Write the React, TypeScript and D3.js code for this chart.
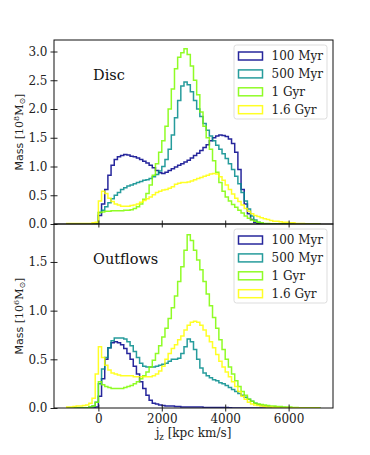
import React, {useEffect, useRef} from 'react';
import * as d3 from 'd3';

// histogram bin edges in jz [kpc km/s]
const binEdges = d3.range(-1000, 7001, 100);
const seriesNames = ['100 Myr', '500 Myr', '1 Gyr', '1.6 Gyr'];
const seriesColors = ['#00008b', '#008b8b', '#7cfc00', '#ffff00'];
const xTicks = [0, 2000, 4000, 6000];
const discTicks = [0, 0.5, 1, 1.5, 2, 2.5, 3];
const outflowTicks = [0, 0.5, 1, 1.5];

// Disc, mass [1e8 Msun]
const disc100 = [
    0, 0, 0, 0, 0, 0, 0, 0, 0, 0,
    0.15, 0.35, 0.6, 0.85, 1.02, 1.12, 1.17, 1.19, 1.21, 1.2,
    1.18, 1.17, 1.15, 1.12, 1.09, 1.06, 1.02, 0.98, 0.93, 0.89,
    0.88, 0.9, 0.93, 0.96, 0.99, 1.02, 1.05, 1.08, 1.11, 1.15,
    1.19, 1.23, 1.28, 1.33, 1.38, 1.45, 1.5, 1.53, 1.55, 1.54,
    1.52, 1.48, 1.4, 1.25, 0.95, 0.6, 0.35, 0.18, 0.08, 0.03,
    0.01, 0, 0, 0, 0, 0, 0, 0, 0, 0,
    0, 0, 0, 0, 0, 0, 0, 0, 0, 0,
];
const disc500 = [
    0, 0, 0, 0, 0, 0, 0, 0, 0, 0,
    0.2, 0.24, 0.3, 0.37, 0.44, 0.5, 0.55, 0.6, 0.63, 0.66,
    0.68, 0.7, 0.72, 0.74, 0.76, 0.77, 0.79, 0.82, 0.86, 0.92,
    1.0, 1.12, 1.3, 1.55, 1.85, 2.15, 2.4, 2.47, 2.42, 2.3,
    2.15, 2.0, 1.87, 1.75, 1.63, 1.53, 1.45, 1.37, 1.3, 1.22,
    1.14, 1.05, 0.95, 0.83, 0.7, 0.55, 0.4, 0.26, 0.14, 0.07,
    0.03, 0.01, 0, 0, 0, 0, 0, 0, 0, 0,
    0, 0, 0, 0, 0, 0, 0, 0, 0, 0,
];
const disc1000 = [
    0, 0, 0, 0, 0, 0, 0, 0, 0, 0,
    0.2, 0.21, 0.22, 0.22, 0.23, 0.23, 0.23, 0.23, 0.24, 0.24,
    0.25, 0.27, 0.3, 0.35, 0.43, 0.53, 0.68, 0.85, 1.05, 1.25,
    1.45, 1.7, 2.0, 2.35, 2.7, 2.9, 2.98, 3.05, 2.95, 2.75,
    2.5, 2.25, 1.95, 1.7, 1.5, 1.3, 1.1, 0.9, 0.72, 0.57,
    0.47, 0.4, 0.34, 0.29, 0.24, 0.19, 0.14, 0.1, 0.07, 0.05,
    0.03, 0.02, 0.01, 0.01, 0, 0, 0, 0, 0, 0,
    0, 0, 0, 0, 0, 0, 0, 0, 0, 0,
];
const disc1600 = [
    0.01, 0.01, 0.01, 0.01, 0.01, 0.01, 0.01, 0.01, 0.02, 0.03,
    0.4, 0.57, 0.53, 0.45, 0.39, 0.35, 0.33, 0.31, 0.31, 0.31,
    0.32, 0.33, 0.35, 0.38, 0.41, 0.44, 0.47, 0.51, 0.55, 0.57,
    0.59, 0.6, 0.62, 0.65, 0.69, 0.71, 0.72, 0.72, 0.73, 0.75,
    0.77, 0.79, 0.81, 0.83, 0.85, 0.87, 0.88, 0.87, 0.82, 0.76,
    0.68, 0.6, 0.52, 0.45, 0.39, 0.33, 0.27, 0.22, 0.18, 0.15,
    0.13, 0.11, 0.09, 0.08, 0.06, 0.05, 0.05, 0.04, 0.03, 0.03,
    0.02, 0.02, 0.01, 0.01, 0.01, 0, 0, 0, 0, 0,
];

// Outflows, mass [1e6 Msun]
const out100 = [
    0, 0, 0, 0, 0, 0, 0, 0, 0, 0.01,
    0.12, 0.3, 0.5, 0.62, 0.67, 0.68, 0.67, 0.65, 0.61, 0.56,
    0.5, 0.43, 0.35, 0.27, 0.2, 0.13, 0.08, 0.05, 0.04, 0.03,
    0.025, 0.02, 0.02, 0.02, 0.015, 0.015, 0.01, 0.01, 0.01, 0.01,
    0.01, 0.01, 0.01, 0.005, 0.005, 0.005, 0.005, 0.005, 0.005, 0.005,
    0.005, 0.003, 0, 0, 0, 0, 0, 0, 0, 0,
    0, 0, 0, 0, 0, 0, 0, 0, 0, 0,
    0, 0, 0, 0, 0, 0, 0, 0, 0, 0,
];
const out500 = [
    0, 0, 0, 0, 0, 0, 0, 0.01, 0.02, 0.06,
    0.25, 0.4, 0.52, 0.62, 0.69, 0.72, 0.72, 0.72, 0.71, 0.68,
    0.64, 0.58, 0.52, 0.46, 0.43, 0.42, 0.42, 0.42, 0.43, 0.44,
    0.45, 0.46, 0.48, 0.5, 0.5, 0.51, 0.56, 0.63, 0.71, 0.68,
    0.6, 0.5, 0.41, 0.36, 0.33, 0.31, 0.29, 0.28, 0.26, 0.25,
    0.23, 0.21, 0.19, 0.17, 0.15, 0.13, 0.11, 0.09, 0.07, 0.05,
    0.035, 0.025, 0.02, 0.015, 0.01, 0.01, 0.008, 0.005, 0.005, 0.003,
    0, 0, 0, 0, 0, 0, 0, 0, 0, 0,
];
const out1000 = [
    0, 0, 0, 0, 0, 0, 0, 0.01, 0.02, 0.06,
    0.27, 0.24, 0.22, 0.21, 0.2, 0.2, 0.2, 0.2, 0.21, 0.22,
    0.23, 0.25, 0.27, 0.3, 0.33, 0.37, 0.42, 0.49, 0.56, 0.64,
    0.73, 0.82, 0.92, 1.03, 1.15, 1.3, 1.45, 1.62, 1.78, 1.72,
    1.62, 1.52, 1.42, 1.3, 1.17, 1.05, 0.93, 0.82, 0.7, 0.6,
    0.5, 0.42, 0.35, 0.28, 0.22, 0.17, 0.13, 0.09, 0.07, 0.05,
    0.04, 0.035, 0.03, 0.025, 0.02, 0.02, 0.015, 0.015, 0.01, 0.01,
    0.01, 0.005, 0.005, 0, 0, 0, 0, 0, 0, 0,
];
const out1600 = [
    0.01, 0.01, 0.015, 0.02, 0.02, 0.025, 0.03, 0.05, 0.1, 0.35,
    0.63, 0.52, 0.44, 0.39, 0.36, 0.35, 0.34, 0.33, 0.33, 0.33,
    0.33, 0.32, 0.32, 0.32, 0.32, 0.32, 0.32, 0.33, 0.35, 0.38,
    0.43, 0.5, 0.56, 0.61, 0.65, 0.7, 0.74, 0.8, 0.85, 0.88,
    0.89, 0.88, 0.85, 0.8, 0.74, 0.68, 0.62, 0.55, 0.48, 0.42,
    0.37, 0.32, 0.27, 0.22, 0.17, 0.12, 0.09, 0.06, 0.04, 0.03,
    0.025, 0.02, 0.015, 0.01, 0.01, 0.005, 0.005, 0, 0, 0,
    0, 0, 0, 0, 0, 0, 0, 0, 0, 0,
];

const serif = 'DejaVu Serif';
const sans = 'DejaVu Sans';

const App = () => {
    const svgRef = useRef(null);

    useEffect(() => {
        const svg = d3.select(svgRef.current);
        svg.selectAll('*').remove();

        const left = 54, right = 333;
        const x = d3.scaleLinear().domain([-1400, 7400]).range([left, right]);

        const drawPanel = (top, bottom, yMax, ticks, series, title, exponent, showXLabels) => {
            const y = d3.scaleLinear().domain([0, yMax]).range([bottom, top]);
            const g = svg.append('g');

            // clip to axes
            const clipId = `clip-${title}`;
            g.append('clipPath').attr('id', clipId)
                .append('rect')
                .attr('x', left).attr('y', top)
                .attr('width', right - left).attr('height', bottom - top);

            // step outlines
            const line = d3.line().x(d => x(d[0])).y(d => y(d[1]));
            series.forEach((vals, k) => {
                const pts = [[binEdges[0], 0]];
                vals.forEach((v, i) => {
                    pts.push([binEdges[i], v]);
                    pts.push([binEdges[i + 1], v]);
                });
                pts.push([binEdges[binEdges.length - 1], 0]);
                g.append('path')
                    .attr('clip-path', `url(#${clipId})`)
                    .attr('d', line(pts))
                    .attr('fill', 'none')
                    .attr('stroke', seriesColors[k])
                    .attr('stroke-opacity', 0.85)
                    .attr('stroke-width', 1.5);
            });

            // y axis (ticks in and out)
            const yAxis = d3.axisLeft(y).tickValues(ticks).tickFormat(d3.format('.1f'))
                .tickSize(7).tickPadding(3);
            const ya = g.append('g').attr('transform', `translate(${left + 3.5},0)`).call(yAxis);
            ya.select('.domain').remove();
            ya.selectAll('text').attr('font-family', serif).attr('font-size', 12).attr('fill', '#222');
            ya.selectAll('line').attr('stroke', '#222');

            // x axis
            const xAxis = d3.axisBottom(x).tickValues(xTicks).tickSize(7).tickPadding(2.5)
                .tickFormat(showXLabels ? d3.format('d') : () => '');
            const xa = g.append('g').attr('transform', `translate(0,${bottom - 3.5})`).call(xAxis);
            xa.select('.domain').remove();
            xa.selectAll('text').attr('font-family', serif).attr('font-size', 12).attr('fill', '#222');
            xa.selectAll('line').attr('stroke', '#222');

            // frame
            g.append('rect')
                .attr('x', left).attr('y', top)
                .attr('width', right - left).attr('height', bottom - top)
                .attr('fill', 'none').attr('stroke', '#111').attr('stroke-width', 1);

            // panel title
            g.append('text')
                .attr('x', 93).attr('y', top + 40)
                .attr('font-family', serif).attr('font-size', 14.5).attr('fill', '#111')
                .text(title);

            // y label
            const yl = g.append('text')
                .attr('transform', `translate(23,${(top + bottom) / 2}) rotate(-90)`)
                .attr('text-anchor', 'middle')
                .attr('font-size', 11).attr('fill', '#222');
            yl.append('tspan').attr('font-family', sans).text('Mass ');
            yl.append('tspan').attr('font-family', serif).text('[10');
            yl.append('tspan').attr('font-family', serif).attr('font-size', 8).attr('dy', -4).text(exponent);
            yl.append('tspan').attr('font-family', serif).attr('dy', 4).text('M');
            yl.append('tspan').attr('font-family', sans).attr('font-size', 8).attr('dy', 2).text('\u2299');
            yl.append('tspan').attr('font-family', serif).attr('dy', -2).text(']');

            // legend
            const lg = g.append('g').attr('transform', `translate(234,${top + 5})`);
            lg.append('rect')
                .attr('width', 93).attr('height', 74).attr('rx', 2.5)
                .attr('fill', '#fff').attr('fill-opacity', 0.8)
                .attr('stroke', '#d4d4d4').attr('stroke-width', 0.8);
            seriesNames.forEach((name, k) => {
                const cy = 11 + k * 17.9;
                lg.append('rect')
                    .attr('x', 4.5).attr('y', cy - 4)
                    .attr('width', 24).attr('height', 8)
                    .attr('fill', 'none')
                    .attr('stroke', seriesColors[k]).attr('stroke-opacity', 0.85)
                    .attr('stroke-width', 1.5);
                lg.append('text')
                    .attr('x', 37.5).attr('y', cy + 4.3)
                    .attr('font-family', serif).attr('font-size', 12).attr('fill', '#222')
                    .text(name);
            });
        };

        drawPanel(40, 224, 3.2, discTicks, [disc100, disc500, disc1000, disc1600], 'Disc', '8', false);
        drawPanel(224, 408, 1.89, outflowTicks, [out100, out500, out1000, out1600], 'Outflows', '6', true);

        // x label
        const xl = svg.append('text')
            .attr('x', 193.5).attr('y', 437)
            .attr('text-anchor', 'middle')
            .attr('font-family', serif).attr('font-size', 12).attr('fill', '#222');
        xl.append('tspan').text('j');
        xl.append('tspan').attr('font-size', 8.5).attr('dy', 2.5).text('z');
        xl.append('tspan').attr('dy', -2.5).text(' [kpc km/s]');
    }, []);

    return (
        <svg ref={svgRef} width={370} height={455}
             style={{position: 'absolute', left: 0, top: 0, background: '#fff'}}></svg>
    );
};

export default App;
